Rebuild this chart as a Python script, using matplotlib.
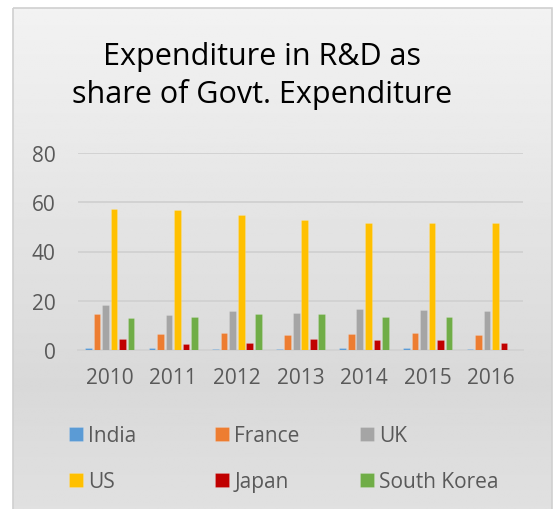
import numpy as np
import matplotlib.pyplot as plt
from matplotlib.patches import Rectangle

plt.rcParams['font.family'] = ['Open Sans', 'DejaVu Sans']

# data
years = ['2010', '2011', '2012', '2013', '2014', '2015', '2016']
india = [0.7, 0.7, 0.6, 0.6, 0.7, 0.7, 0.6]
france = [14.5, 6.5, 6.9, 6.1, 6.5, 6.9, 6.2]
uk = [18.2, 14.4, 16.0, 15.2, 16.7, 16.3, 15.9]
us = [57.3, 56.8, 54.8, 52.8, 51.4, 51.5, 51.6]
japan = [4.6, 2.4, 2.7, 4.5, 4.2, 4.2, 2.8]
south_korea = [13.0, 13.5, 14.6, 14.6, 13.4, 13.4, 0.0]

series = [('India', india, '#5b9bd5'),
          ('France', france, '#ed7d31'),
          ('UK', uk, '#a5a5a5'),
          ('US', us, '#ffc000'),
          ('Japan', japan, '#c00000'),
          ('South Korea', south_korea, '#70ad47')]

W, H = 556, 510
fig = plt.figure(figsize=(W / 100, H / 100), dpi=100)

# background with the grey gradient box
bg = fig.add_axes([0, 0, 1, 1])
bg.set_xlim(0, W)
bg.set_ylim(H, 0)
bg.axis('off')
grad = np.interp(np.linspace(0, 1, 256), [0, 0.75, 1], [0.95, 0.85, 0.88])
bg.imshow(np.tile(grad[:, None], (1, 2)), cmap='gray', vmin=0, vmax=1,
          extent=(13, 552, 512, 9), aspect='auto', interpolation='bilinear')
bg.add_patch(Rectangle((13, 9), 539, 503, fill=False, ec='#d0d0d0', lw=1.2))

ax = fig.add_axes([78 / W, (H - 351) / H, 445 / W, (351 - 154) / H])
ax.patch.set_alpha(0)
x = np.arange(len(years))
bw = 0.105
step = 0.134
for k, (name, vals, col) in enumerate(series):
    ax.bar(x + (k - 2.5) * step, vals, width=bw, color=col, label=name,
           edgecolor=(1, 1, 1, 0.25), linewidth=0.4, zorder=3)

ax.set_xlim(-0.5, len(years) - 0.5)
ax.set_ylim(0, 80)
ax.set_yticks([0, 20, 40, 60, 80])
ax.set_xticks(x)
ax.set_xticklabels(years)
ax.tick_params(length=0, labelsize=15, labelcolor='#595959')
ax.tick_params(axis='y', pad=16)
ax.tick_params(axis='x', pad=12)
ax.grid(axis='y', color='#d2d2d2', lw=1.4, zorder=0)
for s in ['top', 'right', 'left']:
    ax.spines[s].set_visible(False)
ax.spines['bottom'].set_color('#d2d2d2')
ax.spines['bottom'].set_linewidth(1.4)

fig.text(262 / W, 1 - 76 / H, 'Expenditure in R&D as\nshare of Govt. Expenditure',
         ha='center', va='center', fontsize=22, color='black', linespacing=1.3)

# legend: three columns, placed one column at a time
handles, labels = ax.get_legend_handles_labels()
for col, left in zip(range(3), [69, 215, 360]):
    idx = [col, col + 3]
    fig.legend([handles[i] for i in idx], [labels[i] for i in idx],
               loc='center left', bbox_to_anchor=(left / W, 1 - 460 / H),
               frameon=False, fontsize=15, labelcolor='#595959',
               handlelength=0.67, handleheight=0.67, handletextpad=0.25,
               labelspacing=1.2, borderaxespad=0, borderpad=0)

fig.savefig('out.png', dpi=100)
